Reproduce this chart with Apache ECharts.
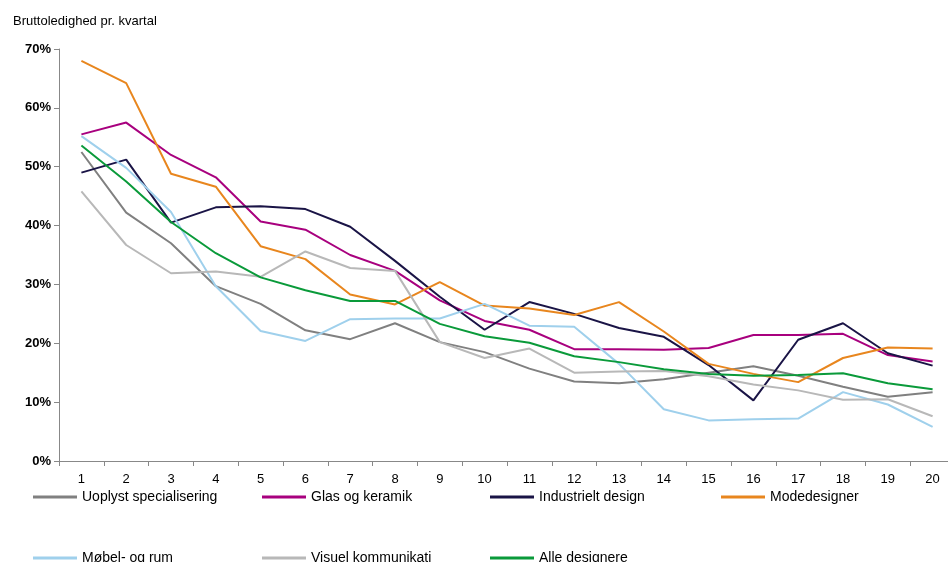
<!DOCTYPE html><html><head><meta charset="utf-8"><script src="https://cdn.jsdelivr.net/npm/echarts@6/dist/echarts.min.js"></script></head><body style="margin:0;overflow:hidden"><div id="c" style="width:955px;height:562px"></div><script>
const categories=['1','2','3','4','5','6','7','8','9','10','11','12','13','14','15','16','17','18','19','20'];
const names=['Uoplyst specialisering','Glas og keramik','Industrielt design','Modedesigner','Møbel- og rum','Visuel kommunikati','Alle designere'];
const colors=['#808080','#a8007e','#1a1446','#e8861e','#9fd0ec','#b8b8b8','#0a9a3a'];
const uoplyst=[52.5,42.2,37,29.7,26.7,22.2,20.7,23.4,20.2,18.5,15.7,13.5,13.2,13.9,15,16.1,14.5,12.6,10.9,11.7];
const glas=[55.5,57.5,52,48.2,40.7,39.3,35,32.3,27.3,23.8,22.3,19,19,18.9,19.2,21.4,21.4,21.6,18,16.9];
const industri=[49,51.2,40.5,43.1,43.3,42.8,39.8,34,27.9,22.3,27,25,22.6,21.1,16.3,10.3,20.6,23.4,18.3,16.2];
const mode=[68,64.2,48.8,46.6,36.5,34.3,28.3,26.6,30.4,26.4,25.9,24.8,27,22,16.5,14.8,13.4,17.5,19.3,19.1];
const mobel=[55.2,49.8,42.3,29.7,22.1,20.4,24.1,24.2,24.2,26.7,23,22.8,16.5,8.8,6.9,7.1,7.2,11.7,9.6,5.8];
const visuel=[45.8,36.7,31.9,32.2,31.3,35.6,32.8,32.3,20.2,17.5,19.1,15,15.2,15.3,14.4,13,12,10.4,10.5,7.6];
const alle=[53.6,47.5,40.6,35.3,31.2,29,27.2,27.2,23.3,21.2,20.1,17.8,16.8,15.6,14.8,14.5,14.6,14.9,13.2,12.2];
const data=[uoplyst,glas,industri,mode,mobel,visuel,alle];
const pos=[[28,485],[257,485],[485,485],[716,485],[28,546],[257,546],[485,546]];
const ft='Liberation Sans';
const chart=echarts.init(document.getElementById('c'));
chart.setOption({
 animation:false,
 textStyle:{fontFamily:ft},
 title:{text:'Bruttoledighed pr. kvartal',left:8,top:10,textStyle:{fontSize:13,fontWeight:'normal',color:'#000',fontFamily:ft}},
 grid:{left:59,right:0,top:49,bottom:101},
 legend:names.map((n,i)=>({data:[n],left:pos[i][0],top:pos[i][1],itemWidth:44,itemHeight:3,icon:'rect',itemGap:10,textStyle:{fontSize:14,color:'#000',fontFamily:ft}})),
 xAxis:{type:'category',data:categories,boundaryGap:true,axisLine:{lineStyle:{color:'#888'}},axisTick:{show:true,lineStyle:{color:'#888'}},axisLabel:{color:'#000',fontSize:13,margin:12}},
 yAxis:{type:'value',min:0,max:70,interval:10,axisLine:{show:true,lineStyle:{color:'#888'}},axisTick:{show:true,lineStyle:{color:'#888'}},splitLine:{show:false},axisLabel:{formatter:'{value}%',color:'#000',fontSize:13,fontWeight:'bold'}},
 series:names.map((n,i)=>({name:n,type:'line',data:data[i],symbol:'none',lineStyle:{width:2,color:colors[i]},itemStyle:{color:colors[i]}}))
});
</script></body></html>
